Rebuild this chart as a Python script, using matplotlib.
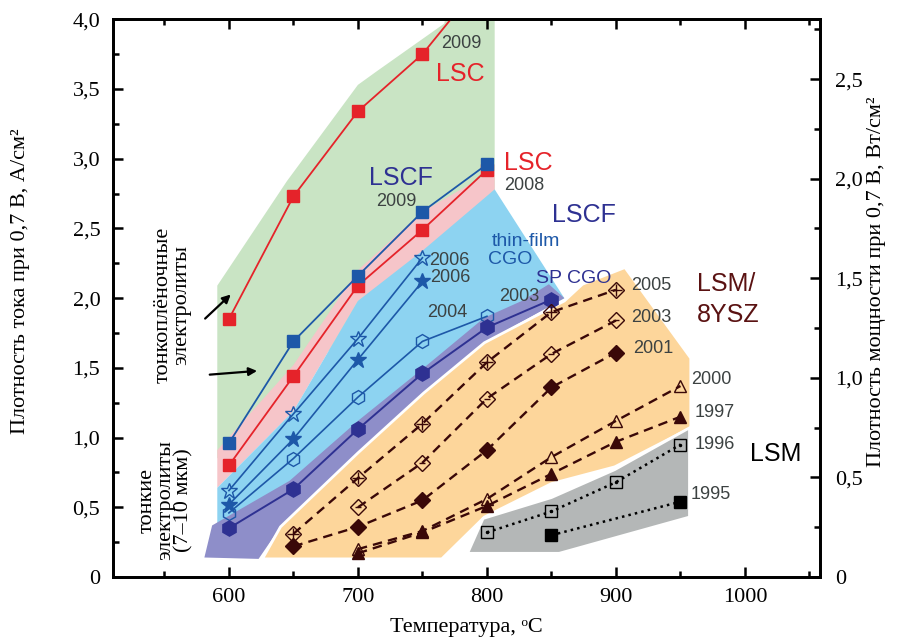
import matplotlib
matplotlib.use('Agg')
import matplotlib.pyplot as plt
from matplotlib.ticker import MultipleLocator, FuncFormatter

plt.rcParams['font.family'] = ['Liberation Serif', 'DejaVu Serif']
SANS = ['Liberation Sans', 'DejaVu Sans']

# shaded regions (temperature, current density)
green_T = [591, 645, 700, 715, 767, 769, 806, 806, 591]
green_I = [2.09, 2.84, 3.53, 3.63, 3.97, 4.10, 4.10, 2.77, 0.85]
pink_T = [591, 650, 700, 750, 806, 806, 750, 700, 650, 591]
pink_I = [0.91, 1.52, 2.20, 2.62, 2.92, 2.78, 2.32, 1.98, 1.19, 0.64]
blue_T = [591, 650, 700, 750, 806, 860, 798, 700, 591]
blue_I = [0.64, 1.19, 1.98, 2.34, 2.78, 2.00, 1.70, 1.00, 0.30]
purple_T = [581, 587, 647, 700, 751, 798, 827, 848, 860, 798, 751, 700, 640, 623]
purple_I = [0.14, 0.37, 0.69, 1.12, 1.50, 1.86, 1.98, 2.10, 2.00, 1.68, 1.32, 0.89, 0.36, 0.13]
orange_T = [626, 640, 700, 751, 798, 860, 874, 907, 958, 958, 899, 850, 798, 765]
orange_I = [0.13, 0.36, 0.89, 1.32, 1.68, 1.98, 2.10, 2.22, 1.57, 1.07, 0.79, 0.67, 0.43, 0.13]
grey_T = [785, 797, 850, 899, 957, 957, 856]
grey_I = [0.17, 0.42, 0.57, 0.77, 1.07, 0.43, 0.17]

# measured series
T5 = [600, 650, 700, 750, 800]
lsc09_I = [1.85, 2.73, 3.34, 3.75, 4.32]
lscf09_I = [0.96, 1.69, 2.16, 2.62, 2.96]
lsc08_I = [0.80, 1.44, 2.09, 2.49, 2.92]
T4 = [600, 650, 700, 750]
star_open_I = [0.62, 1.17, 1.71, 2.29]
star_fill_I = [0.52, 0.99, 1.56, 2.12]
hex_open_I = [0.46, 0.85, 1.29, 1.69, 1.87]
hex_fill_T = [600, 650, 700, 750, 800, 850]
hex_fill_I = [0.35, 0.63, 1.06, 1.46, 1.79, 1.99]
ysz05_T = [650, 700, 750, 800, 850, 900]
ysz05_I = [0.31, 0.71, 1.10, 1.54, 1.90, 2.06]
ysz03_T = [700, 750, 800, 850, 900]
ysz03_I = [0.50, 0.82, 1.28, 1.60, 1.84]
ysz01_T = [650, 700, 750, 800, 850, 900]
ysz01_I = [0.22, 0.36, 0.55, 0.91, 1.36, 1.61]
ysz00_T = [700, 750, 800, 850, 900, 950]
ysz00_I = [0.20, 0.33, 0.56, 0.86, 1.12, 1.37]
ysz97_I = [0.17, 0.32, 0.51, 0.74, 0.97, 1.15]
lsm96_T = [800, 850, 900, 950]
lsm96_I = [0.32, 0.47, 0.68, 0.95]
lsm95_T = [850, 950]
lsm95_I = [0.30, 0.54]

RED = '#e5232a'
BLUE = '#1d58a8'
INDIGO = '#2e3192'
BROWN = '#3a0808'
GREY_TXT = '#3c4242'

fig = plt.figure(figsize=(9.17, 6.44), dpi=100)
ax = fig.add_axes([0.123, 0.104, 0.771, 0.866])

ax.fill(green_T, green_I, color='#c9e4c4', lw=0, zorder=1)
ax.fill(pink_T, pink_I, color='#f6c5c9', lw=0, zorder=1.1)
ax.fill(blue_T, blue_I, color='#8dd3f1', lw=0, zorder=1.2)
ax.fill(purple_T, purple_I, color='#8e8ec9', lw=0, zorder=1.3)
ax.fill(orange_T, orange_I, facecolor='#fdd69b', edgecolor='white', lw=2, zorder=1.4)
ax.fill(grey_T, grey_I, facecolor='#b4b7b7', edgecolor='white', lw=2, zorder=1.5)

ms = 8
ax.plot(T5, lsc09_I, '-s', color=RED, lw=1.3, ms=ms, zorder=5)
ax.plot(T5, lsc08_I, '-s', color=RED, lw=1.3, ms=ms, zorder=5)
ax.plot(T5, lscf09_I, '-s', color=BLUE, lw=1.3, ms=ms, zorder=5)
ax.plot(T4, star_open_I, '-*', color=BLUE, mfc='none', lw=1.2, ms=12, zorder=5)
ax.plot(T4, star_fill_I, '-*', color=BLUE, lw=1.2, ms=12, zorder=5)
ax.plot(T5, hex_open_I, '-h', color=BLUE, mfc='none', lw=1.2, ms=10, zorder=5)
ax.plot(hex_fill_T, hex_fill_I, '-h', color=INDIGO, lw=1.4, ms=11, zorder=5)

dash = (0, (4, 2.6))
ax.plot(ysz05_T, ysz05_I, linestyle=dash, marker='D', color=BROWN, mfc='none', lw=1.7, ms=8, zorder=5)
ax.plot(ysz05_T, ysz05_I, linestyle='none', marker='+', color=BROWN, ms=8, mew=1, zorder=6)
ax.plot(ysz03_T, ysz03_I, linestyle=dash, marker='D', color=BROWN, mfc='none', lw=1.7, ms=8, zorder=5)
ax.plot(ysz03_T, ysz03_I, linestyle='none', marker='_', color=BROWN, ms=5, mew=1, zorder=6)
ax.plot(ysz01_T, ysz01_I, linestyle=dash, marker='D', color=BROWN, lw=1.7, ms=8, zorder=5)
ax.plot(ysz00_T, ysz00_I, linestyle=dash, marker='^', color=BROWN, mfc='none', lw=1.7, ms=9, zorder=5)
ax.plot(ysz00_T, ysz97_I, linestyle=dash, marker='^', color=BROWN, lw=1.7, ms=9, zorder=5)
ax.plot(lsm96_T, lsm96_I, linestyle=':', marker='s', color='black', mfc='none', lw=1.8, ms=8, zorder=5)
ax.plot(lsm96_T, lsm96_I, linestyle='none', marker='.', color='black', ms=3, zorder=6)
ax.plot(lsm95_T, lsm95_I, linestyle=':', marker='s', color='black', lw=1.8, ms=8, zorder=5)

def lab(x, y, s, c, fs, ha='center'):
    ax.text(x, y, s, color=c, fontsize=fs, family=SANS, ha=ha, va='center', zorder=7)

lab(780, 3.83, '2009', GREY_TXT, 13)
lab(779, 3.61, 'LSC', RED, 18)
lab(733, 2.86, 'LSCF', INDIGO, 18)
lab(730, 2.69, '2009', GREY_TXT, 13)
lab(813, 2.97, 'LSC', RED, 18, 'left')
lab(813, 2.81, '2008', GREY_TXT, 13, 'left')
lab(875, 2.60, 'LSCF', INDIGO, 18)
lab(830, 2.41, 'thin-film', BLUE, 14)
lab(801, 2.28, 'CGO', BLUE, 14, 'left')
lab(867, 2.14, 'SP CGO', INDIGO, 14)
lab(825, 2.01, '2003', GREY_TXT, 13)
lab(755, 2.27, '2006', GREY_TXT, 13, 'left')
lab(756, 2.15, '2006', GREY_TXT, 13, 'left')
lab(769, 1.90, '2004', GREY_TXT, 13)
lab(912, 2.09, '2005', GREY_TXT, 13, 'left')
lab(912, 1.86, '2003', GREY_TXT, 13, 'left')
lab(913, 1.64, '2001', GREY_TXT, 13, 'left')
lab(963, 2.10, 'LSM/', '#5a1212', 18, 'left')
lab(963, 1.88, '8YSZ', '#5a1212', 18, 'left')
lab(958, 1.42, '2000', GREY_TXT, 13, 'left')
lab(961, 1.18, '1997', GREY_TXT, 13, 'left')
lab(961, 0.95, '1996', GREY_TXT, 13, 'left')
lab(1024, 0.88, 'LSM', 'black', 18)
lab(958, 0.59, '1995', GREY_TXT, 13, 'left')

ax.text(556, 1.95, 'тонкоплёночные\nэлектролиты', rotation=90, fontsize=16,
        ha='center', va='center', linespacing=1.0, zorder=7)
ax.text(551, 0.55, 'тонкие\nэлектролиты\n(7–10 мкм)', rotation=90, fontsize=16,
        ha='center', va='center', linespacing=0.95, zorder=7)
arrow = dict(arrowstyle='-|>', color='black', lw=1.6, mutation_scale=12)
ax.annotate('', xy=(603, 2.04), xytext=(580, 1.84), arrowprops=arrow, zorder=7)
ax.annotate('', xy=(624, 1.48), xytext=(583, 1.45), arrowprops=arrow, zorder=7)

ax.set_xlim(510, 1058)
ax.set_ylim(0, 4.0)
ax.xaxis.set_major_locator(MultipleLocator(100))
ax.xaxis.set_minor_locator(MultipleLocator(50))
ax.yaxis.set_major_locator(MultipleLocator(0.5))
ax.yaxis.set_minor_locator(MultipleLocator(0.25))

fmt = FuncFormatter(lambda v, p: '0' if abs(v) < 1e-9 else f'{v:.1f}'.replace('.', ','))
ax.yaxis.set_major_formatter(fmt)
ax.tick_params(which='both', direction='in', top=True, right=False, labelsize=16, width=1.8)
ax.tick_params(which='major', length=7)
ax.tick_params(which='minor', length=4)
ax.tick_params(axis='x', which='major', pad=8)
ax.tick_params(axis='y', which='major', pad=9)
ax.set_xlabel('Температура, \u1d52C', fontsize=16, labelpad=8)
ax.set_ylabel('Плотность тока при 0,7 В, А/см²', fontsize=16)
ax.yaxis.set_label_coords(-0.117, 0.53)

ax2 = ax.twinx()
ax2.set_ylim(0, 2.8)
ax2.yaxis.set_major_locator(MultipleLocator(0.5))
ax2.yaxis.set_minor_locator(MultipleLocator(0.25))
ax2.yaxis.set_major_formatter(fmt)
ax2.tick_params(which='both', direction='in', labelsize=16, width=1.8)
ax2.tick_params(which='major', length=7, pad=11)
ax2.tick_params(which='minor', length=4)
ax2.set_ylabel('Плотность мощности при 0,7 В, Вт/см²', fontsize=16)
ax2.yaxis.set_label_coords(1.067, 0.53)

for a in (ax, ax2):
    for sp in a.spines.values():
        sp.set_linewidth(2)

fig.savefig('out.png', dpi=100)
